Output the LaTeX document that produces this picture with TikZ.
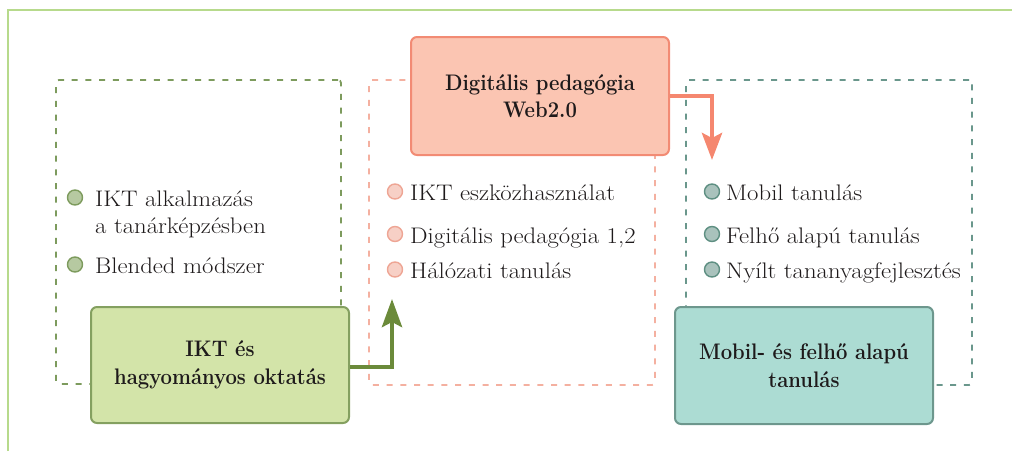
\documentclass[tikz,border=0pt]{standalone}
\usepackage{fontspec}
\usetikzlibrary{arrows.meta}

\newfontfamily\listfont[FakeStretch=1.1]{Latin Modern Roman}
\newfontfamily\titlefont[FakeStretch=0.9]{Latin Modern Roman}

\definecolor{framegreen}{HTML}{B7DA8C}
\definecolor{olive}{HTML}{7D9B5D}
\definecolor{olivefill}{HTML}{B6C9A1}
\definecolor{iktfill}{HTML}{D3E4A9}
\definecolor{iktdraw}{HTML}{84A060}
\definecolor{arrowgreen}{HTML}{6B8A3A}
\definecolor{pinkdash}{HTML}{F4B0A0}
\definecolor{pinkfill}{HTML}{F7D0C6}
\definecolor{pinkdraw}{HTML}{EEA594}
\definecolor{digfill}{HTML}{FBC5B2}
\definecolor{digdraw}{HTML}{F28B74}
\definecolor{salmon}{HTML}{F5876F}
\definecolor{tealdash}{HTML}{6A978C}
\definecolor{tealfill}{HTML}{A9C2BC}
\definecolor{tealdraw}{HTML}{5E8F82}
\definecolor{mobfill}{HTML}{ACDCD3}
\definecolor{mobdraw}{HTML}{6D978D}
\definecolor{ink}{HTML}{1E1A1B}

\tikzset{
  groupbox/.style={rectangle, rounded corners=3pt, line width=1.8pt,
    dash pattern=on 6pt off 7.7pt, minimum width=286pt, minimum height=305pt,
    inner sep=0pt},
  mainbox/.style={rectangle, rounded corners=6pt, line width=2pt,
    minimum width=258pt, minimum height=117pt, align=center, text=ink,
    font=\titlefont\fontsize{22.5}{27.5}\selectfont\bfseries},
  dot/.style={circle, line width=1.4pt, minimum size=15pt, inner sep=0pt},
  item/.style={anchor=base west, inner sep=0pt, text=ink,
    font=\listfont\fontsize{22.5}{27}\selectfont},
  flow/.style={line width=4.5pt},
}

\begin{document}
\begin{tikzpicture}[x=1pt, y=-1pt]
\useasboundingbox (0,0) rectangle (1012,451);

% outer frame (left and top edges)
\draw[framegreen, line width=2pt] (8,451) -- (8,10) -- (1012,10);

% dashed group frames
\node[groupbox, draw=olive, minimum width=285pt, minimum height=304pt] (leftgrp) at (198.5,232) {};
\node[groupbox, draw=pinkdash] (midgrp) at (512,232.5) {};
\node[groupbox, draw=tealdash] (rightgrp) at (829,232.5) {};

% left list
\node[dot, draw=olive, fill=olivefill] (ld1) at (75,197.5) {};
\node[item] (lt1) at (95,206.5) {IKT alkalmazás};
\node[item] (lt1b) at (95,233) {a tanárképzésben};
\node[dot, draw=olive, fill=olivefill] (ld2) at (75,264.5) {};
\node[item] (lt2) at (95,273.5) {Blended módszer};

% middle list
\node[dot, draw=pinkdraw, fill=pinkfill] (md1) at (395,191.5) {};
\node[item] (mt1) at (410,200.5) {IKT eszközhasználat};
\node[dot, draw=pinkdraw, fill=pinkfill] (md2) at (395,234) {};
\node[item] (mt2) at (410,243) {Digitális pedagógia 1,2};
\node[dot, draw=pinkdraw, fill=pinkfill] (md3) at (395,269.5) {};
\node[item] (mt3) at (410,278.5) {Hálózati tanulás};

% right list
\node[dot, draw=tealdraw, fill=tealfill] (rd1) at (712,191.5) {};
\node[item] (rt1) at (726,200.5) {Mobil tanulás};
\node[dot, draw=tealdraw, fill=tealfill] (rd2) at (712,234) {};
\node[item] (rt2) at (726,243) {Felhő alapú tanulás};
\node[dot, draw=tealdraw, fill=tealfill] (rd3) at (712,269.5) {};
\node[item] (rt3) at (726,278.5) {Nyílt tananyagfejlesztés};

% main boxes
\node[mainbox, draw=digdraw, fill=digfill, minimum height=118pt] (dig) at (540,96)
  {Digitális pedagógia\\Web2.0};
\node[mainbox, draw=iktdraw, fill=iktfill, minimum height=116pt] (ikt) at (220,365)
  {IKT és\\hagyományos oktatás};
\node[mainbox, draw=mobdraw, fill=mobfill] (mob) at (804,365.5)
  {Mobil- és felhő alapú\\tanulás};

% connectors
\coordinate (dtip) at (712,160);
\coordinate (gtip) at (392,299);
\draw[flow, salmon, -{Stealth[length=27pt, width=20pt, inset=5pt]}]
  (dig.east) -- (dig.east -| dtip) -- (dtip);
\draw[flow, arrowgreen, -{Stealth[length=28pt, width=20pt, inset=5pt]}]
  ([yshift=-2pt]ikt.east) -- ([yshift=-2pt]ikt.east -| gtip) -- (gtip);
\end{tikzpicture}
\end{document}
